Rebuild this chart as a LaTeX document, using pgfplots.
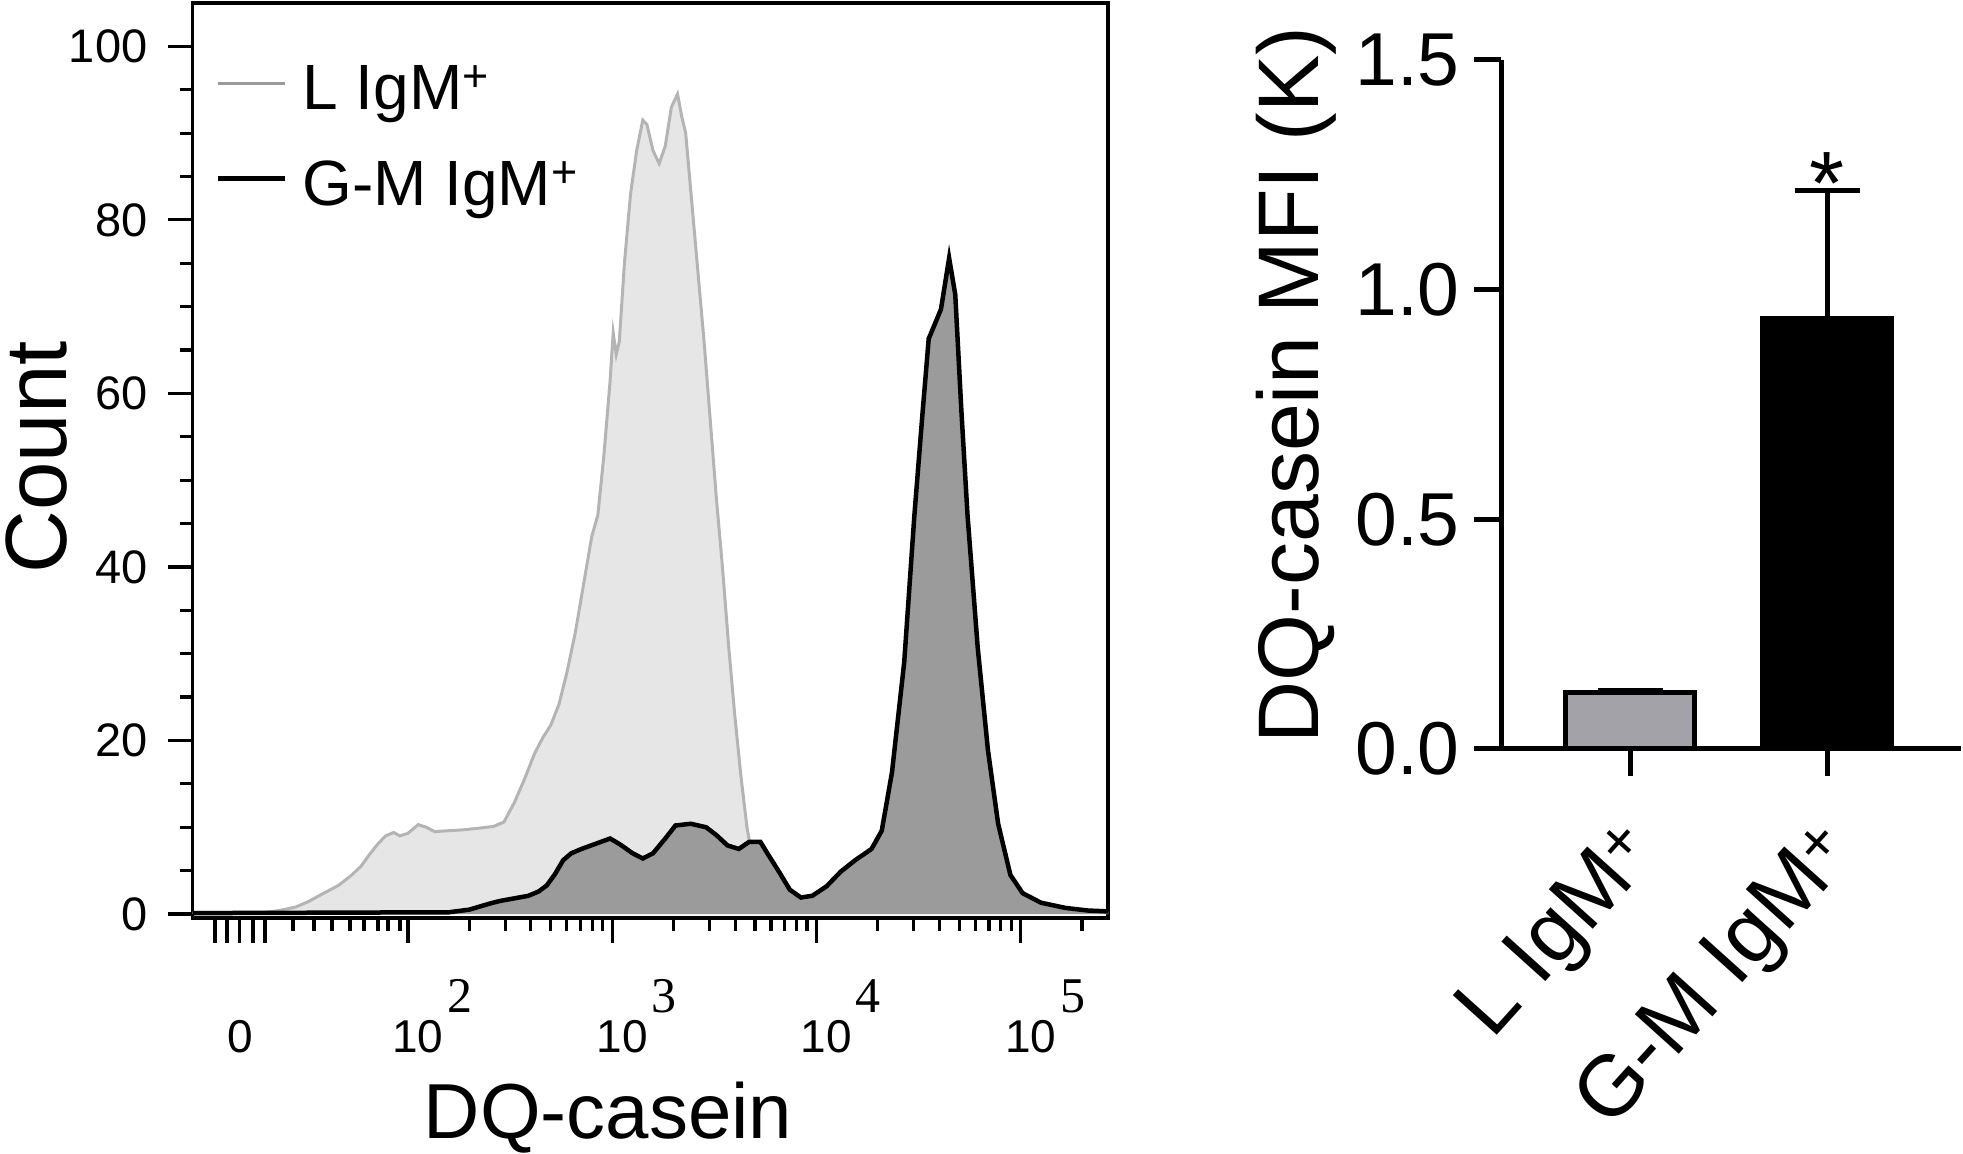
\documentclass[border=0pt]{standalone}
\usepackage{fontspec}
\setmainfont{Liberation Sans}
\newfontfamily\lsans{Liberation Sans}
\newfontfamily\serifexp{Liberation Serif}
\usepackage{pgfplots}
\pgfplotsset{compat=1.18}
\usepackage{pgfplotstable}

\definecolor{lightfill}{HTML}{E6E6E6}
\definecolor{lightline}{HTML}{B4B4B4}
\definecolor{legendgray}{HTML}{9A9A9A}
\definecolor{darkfill}{HTML}{9B9B9B}
\definecolor{bargray}{HTML}{A3A2A8}
\newcommand{\fs}[1]{\fontsize{#1}{#1}\selectfont}
\newcommand{\pw}[1]{\mbox{\lsans\hspace*{10pt}10\rlap{\hspace{2pt}\raisebox{20pt}{\serifexp\fs{25pt}#1}}}}
\newcommand{\tl}[1]{\mbox{\lsans #1}}

% L IgM+ histogram (x in decades of the biexponential display)
\pgfplotstableread{
d c
0.946 0.2
1.30 0.2
1.37 0.4
1.45 0.8
1.51 1.4
1.58 2.3
1.66 3.3
1.72 4.4
1.77 5.5
1.81 6.8
1.85 8.0
1.89 9.0
1.93 9.4
1.96 9.0
2.00 9.3
2.05 10.3
2.09 10.0
2.13 9.5
2.20 9.6
2.27 9.7
2.35 9.9
2.42 10.1
2.47 10.6
2.52 12.8
2.57 15.5
2.62 18.5
2.66 20.3
2.70 21.8
2.74 24.2
2.78 28.0
2.82 32.5
2.86 38.0
2.90 43.5
2.93 46.0
2.96 53.0
2.99 61.5
3.005 67.0
3.02 64.5
3.035 66.0
3.06 75.0
3.09 83.0
3.12 88.0
3.15 91.5
3.17 91.0
3.20 88.0
3.23 86.5
3.26 88.5
3.29 93.0
3.32 94.5
3.34 92.0
3.36 90.0
3.39 82.0
3.42 74.0
3.45 66.0
3.48 57.0
3.51 48.0
3.54 40.0
3.57 31.0
3.60 23.0
3.63 16.0
3.66 10.0
3.69 6.0
3.72 4.0
3.76 2.8
3.85 1.7
3.95 1.3
4.10 0.9
4.30 0.6
4.60 0.4
5.00 0.3
5.428 0.2
}\lighttab

% G-M IgM+ histogram
\pgfplotstableread{
d c
0.946 0.1
2.20 0.2
2.30 0.5
2.40 1.2
2.45 1.5
2.52 1.8
2.59 2.1
2.64 2.6
2.68 3.3
2.72 4.6
2.76 6.2
2.80 7.0
2.85 7.5
2.92 8.1
2.99 8.7
3.04 8.0
3.10 7.0
3.15 6.4
3.20 7.0
3.26 8.7
3.31 10.2
3.385 10.4
3.46 10.0
3.51 9.1
3.565 7.9
3.62 7.5
3.67 8.3
3.726 8.3
3.76 7.0
3.816 4.9
3.87 2.8
3.924 1.9
3.98 2.1
4.05 3.2
4.12 4.9
4.19 6.2
4.27 7.5
4.32 9.6
4.37 16.3
4.43 29.0
4.48 46.0
4.52 57.8
4.55 66.3
4.61 69.7
4.65 75.6
4.68 71.4
4.71 58.0
4.74 46.0
4.79 30.7
4.84 18.9
4.89 10.4
4.95 4.5
5.01 2.4
5.10 1.3
5.22 0.7
5.33 0.4
5.428 0.3
}\darktab

\begin{document}
\begin{tikzpicture}
\useasboundingbox (0,0) rectangle (981.5pt,577pt);
% ---------------- histogram ----------------
\begin{axis}[
  anchor=south west, at={(96.35pt,118pt)},
  scale only axis, width=457.65pt, height=457.5pt,
  xmin=0.946, xmax=5.428, ymin=-0.46, ymax=105,
  axis line style={line width=1.75pt, black},
  tick align=outside, xtick pos=bottom, ytick pos=left,
  major tick length=12.5pt, minor tick length=6.5pt,
  every tick/.style={black, line width=1.6pt},
  xtick={1.177,2,3,4,5},
  xticklabels={{\tl{0}},{\pw{2}},{\pw{3}},{\pw{4}},{\pw{5}}},
  extra x ticks={1.055,1.114,1.241,1.300},
  extra x tick labels={},
  extra x tick style={every tick/.style={black, line width=2.2pt}},
  minor xtick={1.437,1.540,1.628,1.716,1.785,1.853,1.902,1.961,
    2.301,2.477,2.602,2.699,2.778,2.845,2.903,2.954,
    3.301,3.477,3.602,3.699,3.778,3.845,3.903,3.954,
    4.301,4.477,4.602,4.699,4.778,4.845,4.903,4.954,5.301},
  ytick={0,20,40,60,80,100},
  yticklabels={\tl{0},\tl{20},\tl{40},\tl{60},\tl{80},\tl{100}},
  minor ytick={5,10,15,25,30,35,45,50,55,65,70,75,85,90,95},
  yticklabel style={font=\fs{23.5pt}, inner sep=0pt, xshift=-10pt},
  xticklabel style={font=\fs{23pt}, anchor=base, inner sep=0pt, yshift=-55pt},
  xlabel={DQ-casein}, ylabel={Count},
  xlabel style={font=\fs{39pt}, at={(axis description cs:0.4537,-0.2415)}, anchor=base, inner sep=0pt},
  ylabel style={font=\fs{43.5pt}, at={(axis description cs:-0.1384,0.5033)}, anchor=base, inner sep=0pt},
  legend image code/.code={\draw[#1] (0pt,3pt) -- (33.5pt,3pt);},
  legend cell align=left,
  legend style={at={(axis description cs:0.0244,0.932)}, anchor=north west,
    draw=none, fill=none, inner sep=0pt, font=\fs{32pt},
    row sep=24pt, column sep=7.5pt, nodes={inner sep=0pt}},
]
\addplot[draw=none, fill=lightfill, forget plot] table[x=d, y=c] {\lighttab} \closedcycle;
\addplot[lightline, line width=1.5pt, forget plot] table[x=d, y=c] {\lighttab};
\addplot[draw=none, fill=darkfill, forget plot] table[x=d, y=c] {\darktab} \closedcycle;
\addplot[black, line width=2.25pt, forget plot] table[x=d, y=c] {\darktab};
\addlegendimage{legendgray, line width=1.6pt}
\addlegendentry{L IgM\textsuperscript{+}}
\addlegendimage{black, line width=2.5pt}
\addlegendentry{G-M IgM\textsuperscript{+}}
\end{axis}
% ---------------- bar chart ----------------
\begin{axis}[
  anchor=south west, at={(750.5pt,202.5pt)},
  scale only axis, width=230pt, height=344.5pt,
  xmin=-0.657, xmax=1.678, ymin=0, ymax=1.5,
  axis lines=left, axis line style={-, line width=2.5pt, black},
  tick align=outside, major tick length=13.5pt,
  every tick/.style={black, line width=2.5pt},
  xtick={0,1},
  xticklabels={L IgM\textsuperscript{+}, G-M IgM\textsuperscript{+}},
  ytick={0,0.5,1,1.5},
  yticklabels={\tl{0.0},\tl{0.5},\tl{1.0},\tl{1.5}},
  yticklabel style={font=\fs{37.5pt}, inner sep=0pt, xshift=-7pt},
  xticklabel style={font=\fs{43pt}, inner sep=0pt, xshift=-7pt, yshift=-19pt, rotate=48, anchor=north east},
  ylabel={DQ-casein MFI (K)},
  ylabel style={font=\fs{43pt}, at={(axis description cs:-0.3957,0.5283)}, anchor=base, inner sep=0pt},
  ybar, bar width=64.5pt,
]
\addplot[fill=bargray, draw=black, line width=2.5pt, bar shift=0pt,
  error bars/.cd, y dir=plus, y explicit,
  error bar style={line width=2.5pt, black},
  error mark=|, error mark options={black, line width=2.5pt, mark size=16.25pt}]
  coordinates {(0,0.122) +- (0,0.005)};
\addplot[fill=black, draw=black, line width=2.5pt, bar shift=0pt,
  error bars/.cd, y dir=plus, y explicit,
  error bar style={line width=2.5pt, black},
  error mark=|, error mark options={black, line width=2.5pt, mark size=16.25pt}]
  coordinates {(1,0.938) +- (0,0.278)};
\node[font=\fs{45pt}, anchor=base, inner sep=0pt] at (axis cs:1,1.164) {*};
\end{axis}
\end{tikzpicture}
\end{document}
